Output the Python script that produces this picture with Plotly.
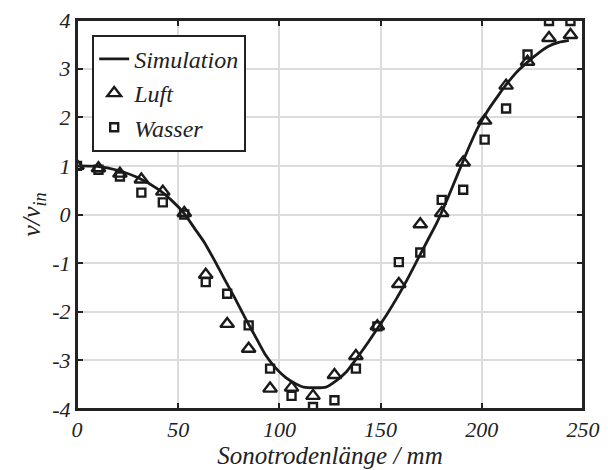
import plotly.graph_objects as go

# Simulation curve
sim_x = [0, 10, 20, 30, 40, 47, 53, 58, 63, 68, 73, 78, 83, 88, 93, 98, 103, 108, 112,
         123, 128, 133, 138, 143, 148, 153, 158, 163, 168, 173, 178, 183, 188, 193, 198,
         203, 208, 213, 218, 223, 228, 233, 238, 243]
sim_y = [1.00, 0.99, 0.91, 0.76, 0.52, 0.28, 0.02, -0.28, -0.58, -0.95, -1.34, -1.72,
         -2.12, -2.50, -2.88, -3.15, -3.35, -3.48, -3.55,
         -3.55, -3.42, -3.24, -2.97, -2.68, -2.37, -2.06, -1.72, -1.35, -0.95, -0.55,
         -0.15, 0.32, 0.82, 1.32, 1.78, 2.14, 2.44, 2.72, 2.96, 3.15, 3.32, 3.46, 3.54, 3.58]

# Measurement positions
meas_x = [0, 10.6, 21.2, 31.8, 42.4, 53.0, 63.6, 74.2, 84.8, 95.4, 106.0, 116.6,
          127.2, 137.8, 148.4, 159.0, 169.6, 180.2, 190.8, 201.4, 212.0, 222.6, 233.2, 243.8]
luft_y = [1.00, 0.95, 0.84, 0.72, 0.47, 0.03, -1.24, -2.25, -2.76, -3.58, -3.56, -3.73,
          -3.30, -2.91, -2.30, -1.43, -0.20, 0.03, 1.07, 1.93, 2.65, 3.14, 3.63, 3.69]
wasser_y = [1.00, 0.92, 0.78, 0.45, 0.25, 0.00, -1.39, -1.63, -2.28, -3.17, -3.73, -3.96,
            -3.82, -3.17, -2.30, -0.98, -0.78, 0.30, 0.51, 1.54, 2.18, 3.29, 3.98, 3.98]

x_ticks = [0, 50, 100, 150, 200, 250]
x_ticklabels = ["0", "50", "100", "150", "200", "250"]
y_ticks = [-4, -3, -2, -1, 0, 1, 2, 3, 4]
y_ticklabels = ["-4", "-3", "-2", "-1", "0", "1", "2", "3", "4"]

FONT = "Liberation Serif"

fig = go.Figure()
fig.add_trace(go.Scatter(x=sim_x, y=sim_y, mode="lines", name="<i>Simulation</i>",
                         line=dict(color="#1a1a1a", width=2.8, shape="spline", smoothing=0.6)))
fig.add_trace(go.Scatter(x=meas_x, y=luft_y, mode="markers", name="<i>Luft</i>",
                         marker=dict(symbol="triangle-up-open", size=12, color="#1a1a1a",
                                     line=dict(width=2.4, color="#1a1a1a"))))
fig.add_trace(go.Scatter(x=meas_x, y=wasser_y, mode="markers", name="<i>Wasser</i>",
                         marker=dict(symbol="square-open", size=8, color="#1a1a1a",
                                     line=dict(width=2.4, color="#1a1a1a"))))

axis_common = dict(
    showline=True, linecolor="#222222", linewidth=2, mirror="ticks",
    ticks="inside", ticklen=6, tickwidth=2, tickcolor="#222222",
    showgrid=True, gridcolor="#dcdcdc", gridwidth=1.5, zeroline=False,
    automargin=False, ticklabeloverflow="allow",
    tickfont=dict(family=FONT, size=22, color="#222222"),
)

fig.update_layout(
    width=600, height=462,
    margin=dict(l=69, r=25, t=12, b=61),
    paper_bgcolor="white", plot_bgcolor="white",
    font=dict(family=FONT, color="#222222"),
    showlegend=True,
    legend=dict(x=0.03, y=0.962, xanchor="left", yanchor="top",
                bgcolor="white", bordercolor="#222222", borderwidth=2,
                font=dict(family=FONT, size=24, color="#222222"),
                tracegroupgap=0, itemwidth=30),
    xaxis=dict(range=[0, 250], tickvals=x_ticks, ticktext=[f"<i>{t}</i>" for t in x_ticklabels],
               title=dict(text="<i>Sonotrodenlänge / mm</i>", font=dict(family=FONT, size=25),
                          standoff=2),
               **axis_common),
    yaxis=dict(range=[-4, 4], tickvals=y_ticks, ticktext=[f"<i>{t}</i>" for t in y_ticklabels],
               title=dict(text="<i>v/v<sub>in</sub></i>", font=dict(family=FONT, size=26),
                          standoff=4),
               **axis_common),
    shapes=[dict(type="rect", xref="paper", yref="paper", x0=0, x1=1, y0=0, y1=1,
                 line=dict(color="#222222", width=2), layer="above")],
)

fig.write_html("out.html")
